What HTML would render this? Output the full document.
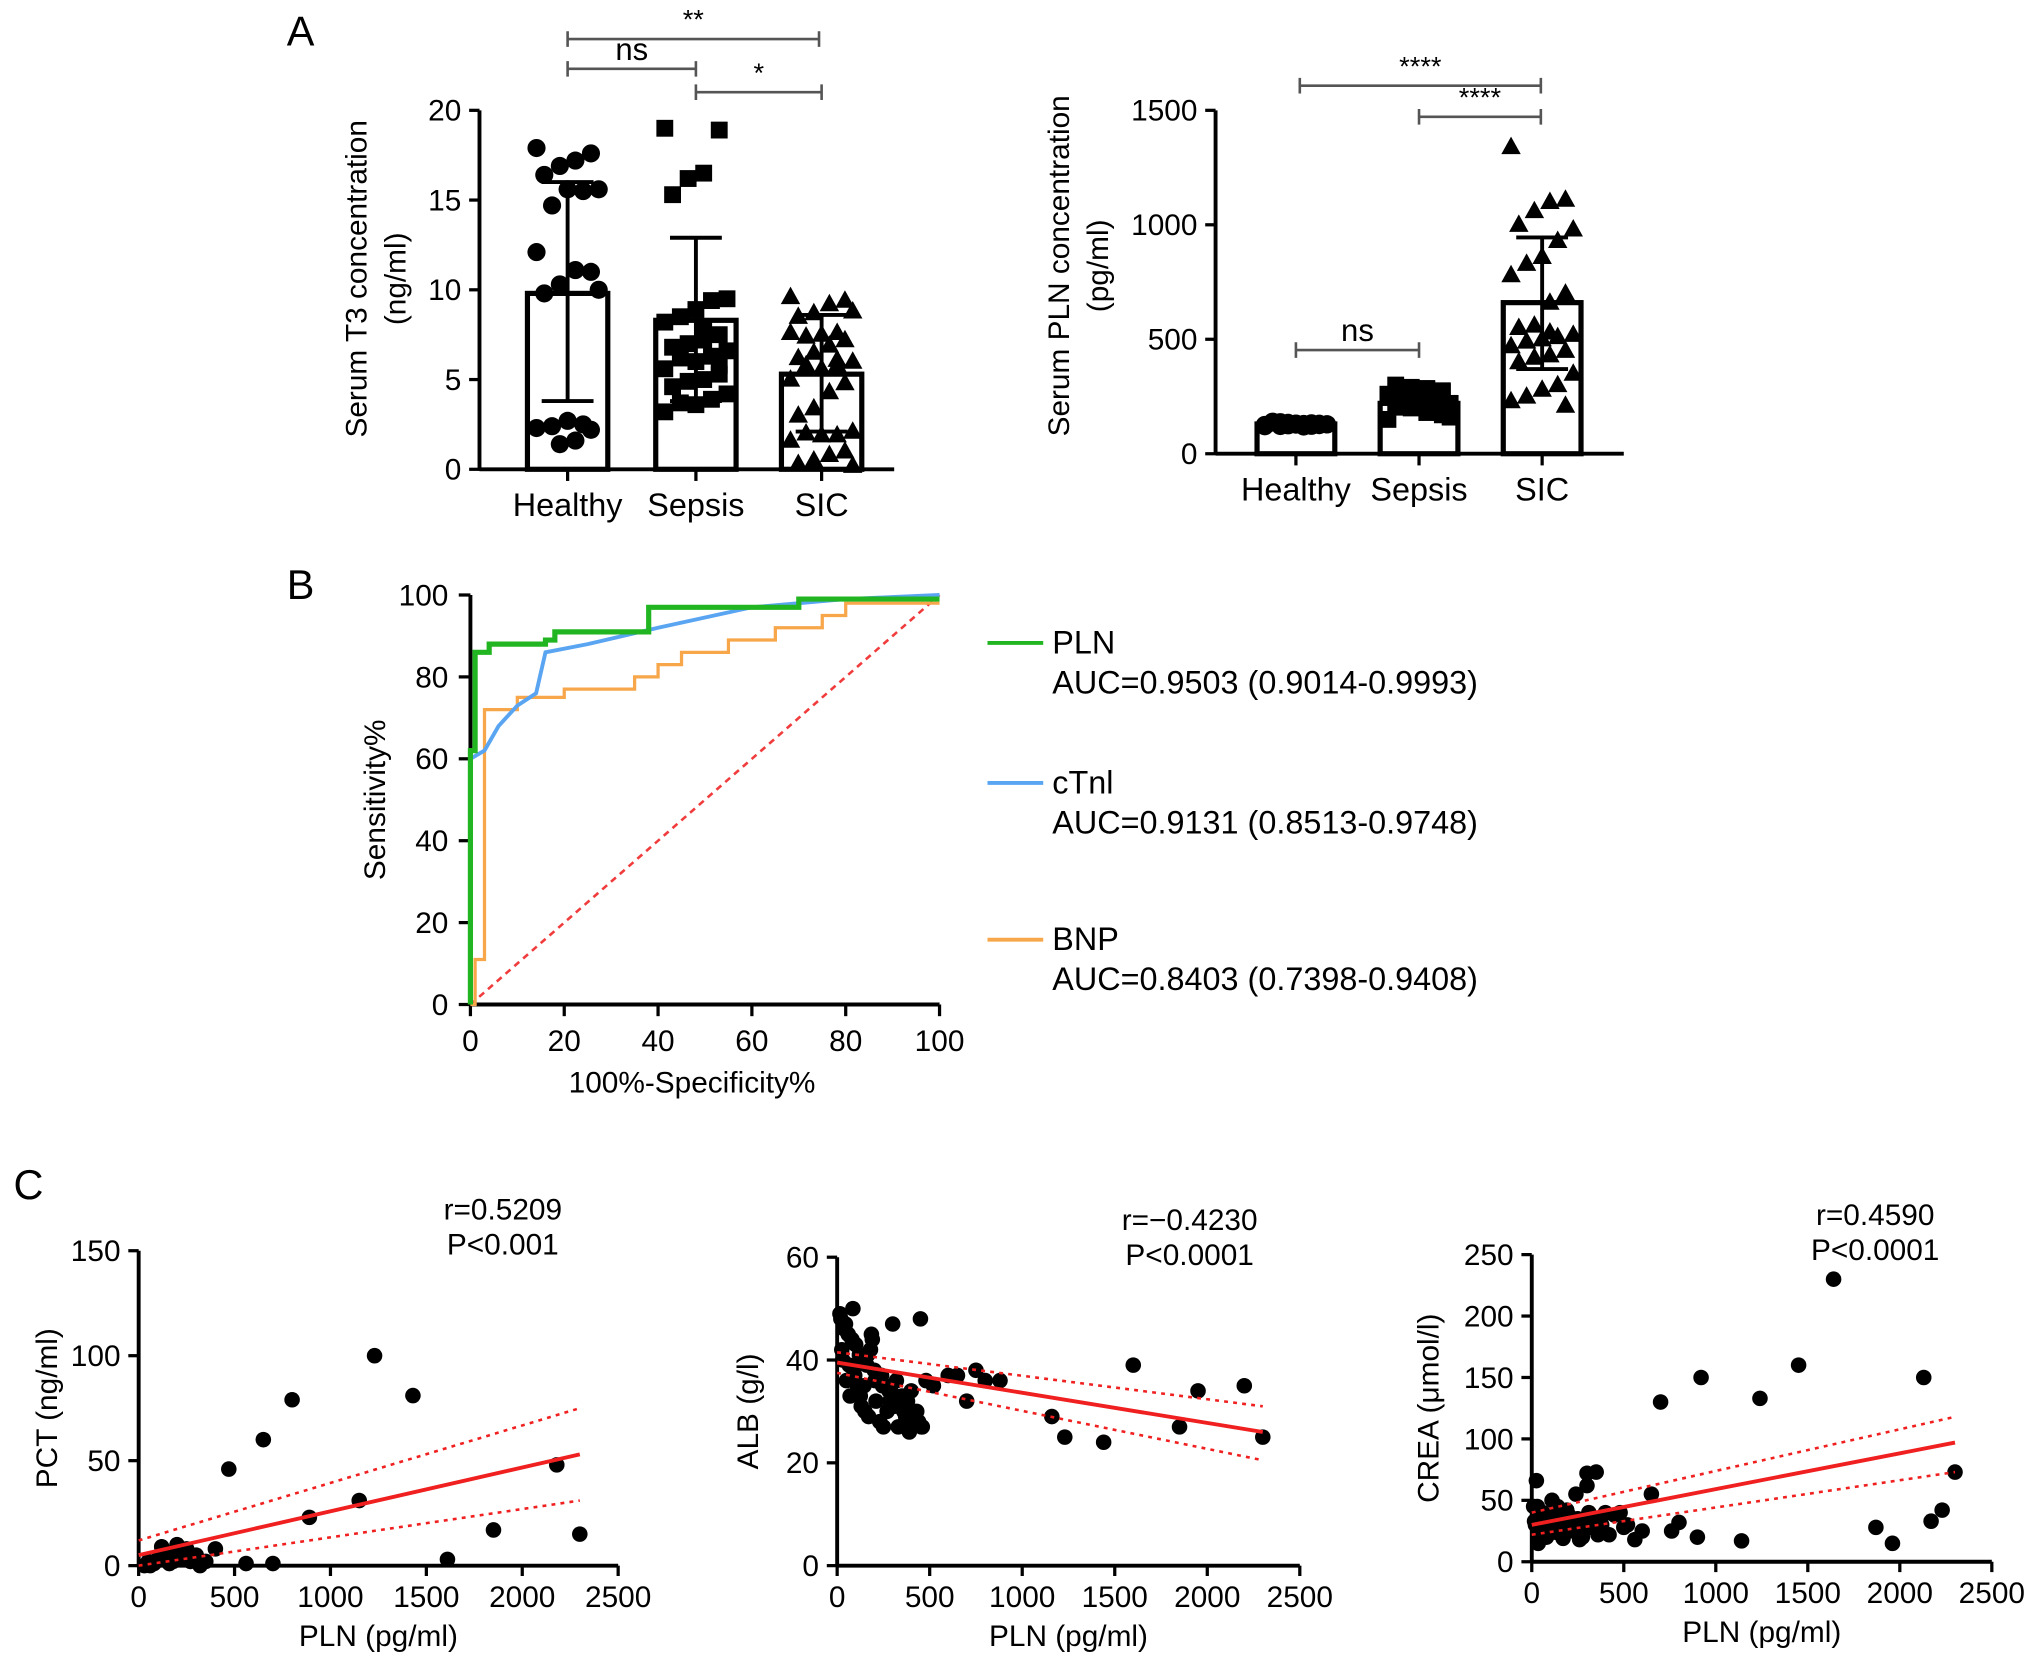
<!DOCTYPE html>
<html><head><meta charset="utf-8"><style>
html,body{margin:0;padding:0;background:#fff;}
svg{display:block;font-family:"Liberation Sans",Arial,sans-serif;}
</style></head><body>
<svg id="fig" width="2032" height="1663" viewBox="0 0 1568 1283" xmlns="http://www.w3.org/2000/svg"></svg>
<script>
// ---------- DATA ----------
const groups = ["Healthy","Sepsis","SIC"];
const t3Means = [9.8, 8.3, 5.3];
const t3SdLow = [3.8, 3.8, 2.1];
const t3SdHigh = [16.0, 12.9, 8.6];
const t3Healthy = [17.9,17.6,17.2,16.9,16.4,15.6,15.5,15.6,14.7,12.1,11.0,11.1,10.3,9.8,10.0,2.5,2.7,2.4,2.3,2.2,1.6,1.4];
const t3Sepsis = [19.0,18.9,16.5,16.2,15.3,9.5,9.4,8.9,8.5,8.2,7.5,7.2,7.0,6.8,6.6,6.3,6.0,6.2,5.6,5.3,5.0,4.9,4.6,4.2,3.9,3.6,3.7,3.2,5.8,7.8];
const t3SIC = [9.6,9.4,9.2,8.7,8.5,8.8,7.6,7.5,7.4,7.6,7.2,6.9,6.5,6.2,6.0,5.8,5.6,5.8,5.0,4.8,4.3,3.4,3.0,2.1,1.9,1.9,2.0,1.6,1.0,0.8,0.5,0.3,0.2,6.1];
const t3Ticks = [0,5,10,15,20];
const plnMeans = [130, 220, 660];
const plnSdLow = [115, 175, 370];
const plnSdHigh = [145, 265, 945];
const plnHealthy = [120,125,130,135,140,128,122,132,138,126,131,119,124,136,129,133,127,121];
const plnSepsis = [150,170,180,200,210,220,230,240,250,260,270,280,290,300,160,190,215,235,255,275,285,205,245];
const plnSIC = [1340,1110,1100,1060,1000,980,930,860,830,780,700,660,560,550,520,510,500,490,470,450,430,420,400,350,300,280,250,230,210,530];
const plnTicks = [0,500,1000,1500];

const rocTicks = [0,20,40,60,80,100];
const plnRoc = [[0,0],[0,62],[1,62],[1,86],[4,86],[4,88],[16,88],[16,89],[18,89],[18,91],[38,91],[38,97],[70,97],[70,99],[100,99]];
const ctnRoc = [[0,0],[0,60],[3,62],[6,68],[10,73],[14,76],[16,86],[25,88],[40,92],[60,97],[80,99],[100,100]];
const bnpRoc = [[0,0],[1,0],[1,11],[3,11],[3,72],[10,72],[10,75],[20,75],[20,77],[35,77],[35,80],[40,80],[40,83],[45,83],[45,86],[55,86],[55,89],[65,89],[65,92],[75,92],[75,95],[80,95],[80,98],[100,98]];

const xTicksC = [0,500,1000,1500,2000,2500];
const pctTicks = [0,50,100,150];
const pctPln = [1230,1430,800,650,470,2180,1150,890,1850,2300,1610,400,560,700,300,250,200,150,100,50,180,350,270,120,220,80,320,30,160,60];
const pctVal = [100,81,79,60,46,48,31,23,17,15,3,8,1,1,5,8,10,6,3,2,2,2,2,9,4,1,0,0,1,0];
const pctFit = [5,53]; const pctUp=[12,75]; const pctLo=[0,31];

const albTicks = [0,20,40,60];
const albPln = [1600,1950,2200,1850,2300,1440,1230,1160,800,880,750,700,600,650,520,460,450,300,400,
 20,40,60,80,100,120,140,160,180,200,220,240,260,280,300,320,340,360,380,400,420,440,30,50,70,90,110,130,150,170,190,210,230,250,270,290,310,330,350,370,390,410,430,25,65,95,125,165,205,245,285,335,375,415,455,480,15,45,85,145,185];
const albVal = [39,34,35,27,25,24,25,29,36,36,38,32,37,37,35,27,48,47,30,
 48,46,45,44,43,41,40,39,42,38,36,37,35,34,33,36,31,30,32,34,29,28,40,36,33,38,35,31,30,29,44,32,28,27,30,34,31,27,33,29,26,28,30,42,39,37,33,41,36,35,32,31,27,30,27,36,49,47,50,35,45];
const albFit = [39.5,26]; const albUp=[41.5,31]; const albLo=[37.5,20.5];

const creaTicks = [0,50,100,150,200,250];
const creaPln = [1640,2130,920,1450,1240,700,650,1140,1870,1960,2170,2230,2300,760,800,900,600,500,450,400,350,300,
 20,40,60,80,100,120,140,160,180,200,220,240,260,280,300,320,340,360,380,30,50,70,90,110,130,150,170,190,210,230,250,270,290,310,25,75,125,175,225,275,325,375,420,480,520,560,10,15,35];
const creaVal = [230,150,150,160,133,130,55,17,28,15,33,42,73,25,32,20,25,28,38,40,73,72,
 30,25,40,20,35,28,45,22,30,38,26,55,18,32,62,28,35,22,30,45,20,33,27,50,24,36,19,42,30,26,35,21,28,40,66,24,38,30,25,20,28,35,22,40,30,18,45,33,15];
const creaFit = [30,97]; const creaUp=[40,118]; const creaLo=[22,73];

// ---------- HELPERS ----------
const svg = document.getElementById('fig');
const NS = "http://www.w3.org/2000/svg";
function el(tag, attrs, parent){
  const e = document.createElementNS(NS, tag);
  for (const k in attrs) e.setAttribute(k, attrs[k]);
  (parent||svg).appendChild(e);
  return e;
}
function txt(x,y,s,size,anchor,parent,rot){
  const t = el('text',{x:x,y:y,'font-size':size,'text-anchor':anchor||'middle',fill:'#000'},parent);
  if(rot) t.setAttribute('transform','rotate(-90 '+x+' '+y+')');
  t.textContent = s;
  return t;
}
function lin(d0,d1,r0,r1){return v=>r0+(v-d0)/(d1-d0)*(r1-r0);}

let t;
t=txt(232,35,'A',32,'middle');


t=txt(232,462,'B',32,'middle');


t=txt(22,925,'C',32,'middle');



function marker(shape,x,y,g){
  if(shape==='circle') return el('circle',{cx:x,cy:y,r:7,fill:'#000'},g);
  if(shape==='square') return el('rect',{x:x-6.5,y:y-6.5,width:13,height:13,fill:'#000'},g);
  return el('polygon',{points:`${x},${y-8} ${x-7.5},${y+5.5} ${x+7.5},${y+5.5}`,fill:'#000'},g);
}

function barChart(opt){
  const g = el('g',{});
  
  
  const y = lin(0,opt.ymax,opt.y0,opt.y1);
  el('line',{x1:opt.ax,y1:opt.y0+1,x2:opt.ax,y2:opt.y1,stroke:'#000','stroke-width':3},g);
  el('line',{x1:opt.ax,y1:opt.y0,x2:opt.xend,y2:opt.y0,stroke:'#000','stroke-width':3},g);
  opt.ticks.forEach(v=>{
    el('line',{x1:opt.ax-8,y1:y(v),x2:opt.ax,y2:y(v),stroke:'#000','stroke-width':2.5},g);
    const tl=txt(opt.ax-14,y(v)+8,String(v),23,'end',g);
    
    
  });
  groups.forEach((gname,i)=>{
    const cx = opt.centers[i], w = opt.bw;
    const b = el('rect',{x:cx-w/2,y:y(opt.means[i]),width:w,height:opt.y0-y(opt.means[i]),fill:'none',stroke:'#000','stroke-width':4},g);
    
    
    el('line',{x1:cx,y1:opt.y0,x2:cx,y2:opt.y0+9,stroke:'#000','stroke-width':2.5},g);
    const xl=txt(cx,opt.y0+36,gname,25,'middle',g);
    
    
    const pts = opt.points[i];
    const dg = el('g',{},g);
    
    
    pts.forEach((v,k)=>{
      const off = ((k*7)%9-4)*opt.jit;
      marker(opt.shapes[i],cx+off,y(v),dg);
    });
    const e = el('path',{d:`M${cx-20},${y(opt.hi[i])}H${cx+20}M${cx},${y(opt.hi[i])}V${y(opt.lo[i])}M${cx-20},${y(opt.lo[i])}H${cx+20}`,stroke:'#000','stroke-width':3,fill:'none'},g);
    
    
  });
  const yl1=txt(opt.ylx,opt.ylc,opt.yl1,23,'middle',g,true);
  
  
  txt(opt.ylx+30,opt.ylc,opt.yl2,23,'middle',g,true);
  opt.sig.forEach(s=>{
    el('path',{d:`M${s[0]},${s[2]-6}V${s[2]+6}M${s[0]},${s[2]}H${s[1]}M${s[1]},${s[2]-6}V${s[2]+6}`,stroke:'#555','stroke-width':2,fill:'none'},g);
    const st=txt((s[0]+s[1])/2,s[2]-(s[3]==='ns'?7:8),s[3],s[3]==='ns'?24:21,'middle',g);
    
    
  });
}
barChart({name:'t3-bar-chart',ax:370,xend:690,y0:362,y1:85,ymax:20,ticks:t3Ticks,centers:[438,537,634],bw:62,
  means:t3Means,lo:t3SdLow,hi:t3SdHigh,points:[t3Healthy,t3Sepsis,t3SIC],shapes:['circle','square','triangle'],jit:6,
  ylx:283,ylc:215,yl1:'Serum T3 concentration',yl2:'(ng/ml)',
  sig:[[438,632,30,'**'],[438,537,53,'ns'],[537,634,71,'*']]});
barChart({name:'pln-bar-chart',ax:938,xend:1253,y0:350,y1:85,ymax:1500,ticks:plnTicks,centers:[1000,1095,1190],bw:60,
  means:plnMeans,lo:plnSdLow,hi:plnSdHigh,points:[plnHealthy,plnSepsis,plnSIC],shapes:['circle','square','triangle'],jit:6,
  ylx:825,ylc:205,yl1:'Serum PLN concentration',yl2:'(pg/ml)',
  sig:[[1003,1189,66,'****'],[1095,1189,90,'****'],[1000,1095,270,'ns']]});

(function(){
  const g = el('g',{});
  
  
  const x = lin(0,100,363,725), y = lin(0,100,775,459);
  el('line',{x1:363,y1:776,x2:363,y2:459,stroke:'#000','stroke-width':3},g);
  el('line',{x1:362,y1:775,x2:725,y2:775,stroke:'#000','stroke-width':3},g);
  rocTicks.forEach(v=>{
    el('line',{x1:x(v),y1:775,x2:x(v),y2:784,stroke:'#000','stroke-width':2.5},g);
    txt(x(v),811,String(v),23,'middle',g);
    el('line',{x1:354,y1:y(v),x2:363,y2:y(v),stroke:'#000','stroke-width':2.5},g);
    txt(346,y(v)+8,String(v),23,'end',g);
  });
  const xt=txt(534,843,'100%-Specificity%',23,'middle',g);
  
  
  const yt=txt(297,617,'Sensitivity%',23,'middle',g,true);
  
  
  const d = el('line',{x1:x(0),y1:y(0),x2:x(100),y2:y(100),stroke:'#f03c3c','stroke-width':2,'stroke-dasharray':'5,4'},g);
  
  
  const series=[['bnp',bnpRoc,'#f7a649',2.5],['ctni',ctnRoc,'#5aa5f2',3],['pln',plnRoc,'#22b522',4]];
  series.forEach(s=>{
    const p = el('polyline',{points:s[1].map(q=>x(q[0])+','+y(q[1])).join(' '),fill:'none',stroke:s[2],'stroke-width':s[3]},g);
    
    
  });
  const leg=[['PLN','AUC=0.9503 (0.9014-0.9993)','#22b522',496],['cTnl','AUC=0.9131 (0.8513-0.9748)','#5aa5f2',604],['BNP','AUC=0.8403 (0.7398-0.9408)','#f7a649',725]];
  leg.forEach(l=>{
    const lg = el('g',{},g);
    
    
    el('line',{x1:762,y1:l[3],x2:805,y2:l[3],stroke:l[2],'stroke-width':3},lg);
    txt(812,l[3]+8,l[0],25,'start',lg);
    txt(812,l[3]+39,l[1],25,'start',lg);
  });
})();

function scatter(o){
  const g = el('g',{});
  
  
  const x = lin(0,2500,o.x0,o.x1), y = lin(0,o.ymax,o.y0,o.y1);
  el('line',{x1:o.x0,y1:o.y0+1,x2:o.x0,y2:o.y1,stroke:'#000','stroke-width':3},g);
  el('line',{x1:o.x0-1,y1:o.y0,x2:o.x1,y2:o.y0,stroke:'#000','stroke-width':3},g);
  xTicksC.forEach(v=>{
    el('line',{x1:x(v),y1:o.y0,x2:x(v),y2:o.y0+8,stroke:'#000','stroke-width':2.5},g);
    txt(x(v),o.y0+32,String(v),23,'middle',g);
  });
  o.ticks.forEach(v=>{
    el('line',{x1:o.x0-8,y1:y(v),x2:o.x0,y2:y(v),stroke:'#000','stroke-width':2.5},g);
    txt(o.x0-14,y(v)+8,String(v),23,'end',g);
  });
  const xt=txt((o.x0+o.x1)/2,o.y0+62,'PLN (pg/ml)',23,'middle',g);
  
  
  const yt=txt(o.ylx,(o.y0+o.y1)/2,o.yl,23,'middle',g,true);
  
  
  const a1=txt(o.ann[0],o.ann[1],o.r,23,'middle',g);
  
  
  const a2=txt(o.ann[0],o.ann[1]+27,o.p,23,'middle',g);
  
  
  const pg = el('g',{},g);
  
  
  o.px.forEach((v,i)=>el('circle',{cx:x(v),cy:y(o.py[i]),r:6,fill:'#000'},pg));
  [[o.up,'ci-upper','3,4',2],[o.lo,'ci-lower','3,4',2],[o.fit,'regression-line',null,3]].forEach(c=>{
    const l = el('line',{x1:x(0),y1:y(c[0][0]),x2:x(2300),y2:y(c[0][1]),stroke:'#f02020','stroke-width':c[3]},g);
    if(c[2]) l.setAttribute('stroke-dasharray',c[2]);
    
    
  });
}
scatter({name:'pct-scatter',x0:107,x1:477,y0:1208,y1:965,ymax:150,ticks:pctTicks,px:pctPln,py:pctVal,fit:pctFit,up:pctUp,lo:pctLo,
  ylx:44,yl:'PCT (ng/ml)',ann:[388,941],r:'r=0.5209',p:'P<0.001'});
scatter({name:'alb-scatter',x0:646,x1:1003,y0:1208,y1:970,ymax:60,ticks:albTicks,px:albPln,py:albVal,fit:albFit,up:albUp,lo:albLo,
  ylx:585,yl:'ALB (g/l)',ann:[918,949],r:'r=\u22120.4230',p:'P<0.0001'});
scatter({name:'crea-scatter',x0:1182,x1:1537,y0:1205,y1:968,ymax:250,ticks:creaTicks,px:creaPln,py:creaVal,fit:creaFit,up:creaUp,lo:creaLo,
  ylx:1110,yl:'CREA (\u03bcmol/l)',ann:[1447,945],r:'r=0.4590',p:'P<0.0001'});
</script>
</body></html>
